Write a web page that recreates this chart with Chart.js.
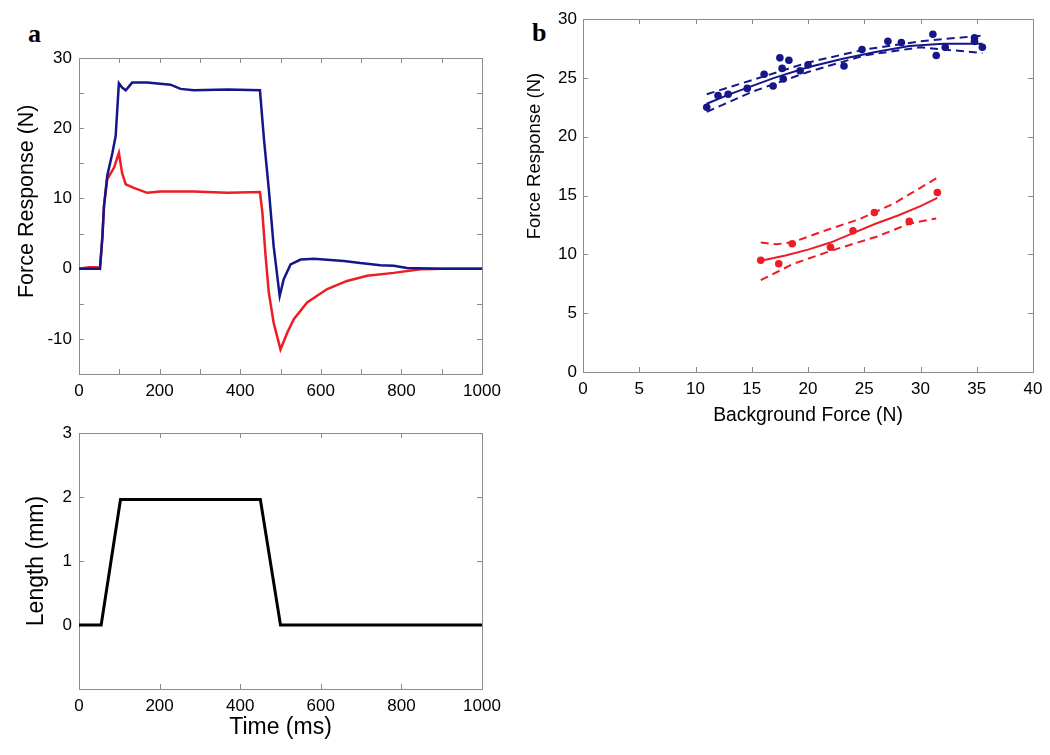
<!DOCTYPE html>
<html>
<head>
<meta charset="utf-8">
<script src="https://cdn.jsdelivr.net/npm/chart.js@4.4.1/dist/chart.umd.min.js"></script>
<style>
  body { margin: 0; background: #fff; width: 1050px; height: 755px; position: relative; overflow: hidden; }
  canvas { position: absolute; }
  .panel { position: absolute; font: bold 26px "Liberation Serif", "DejaVu Serif", serif; line-height: 26px; color: #000; }
</style>
</head>
<body>
<div class="panel" style="left:28px; top:21px;">a</div>
<div class="panel" style="left:532px; top:20px;">b</div>
<canvas id="force_time" width="505" height="380" style="left:0; top:40px;"></canvas>
<canvas id="length_time" width="505" height="335" style="left:0; top:420px;"></canvas>
<canvas id="force_bg" width="530" height="440" style="left:520px; top:0;"></canvas>
<script>
// panel a, top: force response over time
const blueTime = [0, 52, 58, 62, 70, 83, 91, 99, 107, 116, 132, 169, 227, 252, 285, 368, 449, 459, 471, 483, 498, 508, 525, 550, 583, 657, 698, 748, 781, 814, 900, 1000];
const blueForce = [0, 0, 4.5, 8.9, 13.2, 16.5, 18.9, 26.4, 25.8, 25.4, 26.5, 26.5, 26.2, 25.6, 25.4, 25.5, 25.4, 18.4, 11.3, 3.2, -3.9, -1.5, 0.6, 1.3, 1.4, 1.1, 0.8, 0.5, 0.4, 0.1, 0, 0];
const redTime = [0, 25, 45, 52, 58, 62, 70, 87, 99, 107, 116, 136, 169, 202, 285, 368, 449, 455, 463, 471, 483, 500, 517, 533, 566, 616, 665, 715, 781, 847, 905, 1000];
const redForce = [0, 0.2, 0.2, 0, 4.5, 8.9, 12.7, 14.4, 16.5, 13.6, 12.0, 11.5, 10.8, 11.0, 11.0, 10.8, 10.9, 8.0, 1.8, -3.4, -7.7, -11.5, -9.1, -7.2, -4.8, -2.9, -1.75, -1.0, -0.6, -0.1, 0, 0];

// panel a, bottom: length stimulus
const lengthTime = [0, 55, 103, 450, 500, 1000];
const lengthMm = [0, 0, 1.96, 1.96, 0, 0];

// panel b: response vs background force
const blueBgX = [11.0, 12.0, 12.9, 14.6, 16.1, 16.9, 17.5, 17.7, 17.8, 18.3, 19.3, 20.0, 23.2, 24.8, 27.1, 28.3, 31.1, 31.4, 32.2, 34.8, 34.8, 35.5];
const blueBgY = [22.5, 23.5, 23.6, 24.1, 25.3, 24.3, 26.7, 25.8, 24.9, 26.5, 25.6, 26.1, 26.0, 27.4, 28.1, 28.0, 28.7, 26.9, 27.6, 28.4, 28.1, 27.6];
const blueFitX = [11, 13, 15, 17, 20, 23, 26, 29, 32, 35.5];
const blueFitY = [22.8, 23.6, 24.3, 25.0, 25.9, 26.6, 27.2, 27.7, 27.9, 27.9];
const blueUpX = [11, 15, 20, 25, 30, 35.5];
const blueUpY = [23.6, 24.8, 26.3, 27.4, 28.1, 28.6];
const blueLoX = [11, 15, 20, 25, 30, 35.5];
const blueLoY = [22.1, 23.8, 25.5, 26.9, 27.6, 27.1];

const redBgX = [15.8, 17.4, 18.6, 22.0, 24.0, 25.9, 29.0, 31.5];
const redBgY = [9.5, 9.2, 10.9, 10.6, 12.0, 13.55, 12.8, 15.25];
const redFitX = [15.8, 18, 20, 22, 24, 26, 28, 30, 31.5];
const redFitY = [9.45, 9.9, 10.4, 11.0, 11.8, 12.6, 13.3, 14.1, 14.8];
const redUpX = [15.8, 17.2, 18.7, 21.6, 24.6, 27.6, 31.4];
const redUpY = [11.0, 10.85, 11.05, 12.05, 13.0, 14.3, 16.45];
const redLoX = [15.8, 18.7, 22.2, 26.1, 29.0, 31.4];
const redLoY = [7.8, 9.2, 10.35, 11.5, 12.6, 13.05];

const BLUE = '#14168a';
const RED = '#ee1c24';
const FONT = '"Liberation Sans", Arial, sans-serif';

Chart.defaults.font.family = FONT;
Chart.defaults.color = '#000';

function pts(xs, ys) {
  return xs.map((x, i) => ({x: x, y: ys[i]}));
}

// matlab style box with inward ticks
const framePlugin = {
  id: 'frame',
  beforeDatasetsDraw(chart) {
    const {ctx, chartArea: a, scales} = chart;
    ctx.save();
    ctx.strokeStyle = '#8c8c8c';
    ctx.lineWidth = 1;
    ctx.strokeRect(Math.round(a.left) + 0.5, Math.round(a.top) + 0.5, Math.round(a.right - a.left), Math.round(a.bottom - a.top));
    ctx.beginPath();
    scales.x.ticks.forEach(t => {
      const px = Math.round(scales.x.getPixelForValue(t.value)) + 0.5;
      ctx.moveTo(px, a.bottom); ctx.lineTo(px, a.bottom - 5);
      ctx.moveTo(px, a.top); ctx.lineTo(px, a.top + 5);
    });
    scales.y.ticks.forEach(t => {
      const py = Math.round(scales.y.getPixelForValue(t.value)) + 0.5;
      ctx.moveTo(a.left, py); ctx.lineTo(a.left + 5, py);
      ctx.moveTo(a.right, py); ctx.lineTo(a.right - 5, py);
    });
    ctx.stroke();
    ctx.restore();
  }
};

// y axis title, placed a little off centre like the original figure
const yTitlePlugin = {
  id: 'ytitle',
  afterDraw(chart, args, opts) {
    const ctx = chart.ctx;
    ctx.save();
    ctx.font = opts.size + 'px ' + FONT;
    ctx.fillStyle = '#000';
    ctx.textAlign = 'center';
    ctx.textBaseline = 'middle';
    ctx.translate(opts.x, chart.scales.y.getPixelForValue(opts.at));
    ctx.rotate(-Math.PI / 2);
    ctx.fillText(opts.text, 0, 0);
    ctx.restore();
  }
};

function axis(opts) {
  return {
    type: 'linear',
    min: opts.min,
    max: opts.max,
    grid: {display: false, drawTicks: false},
    border: {display: false},
    ticks: {
      stepSize: opts.step,
      autoSkip: false,
      maxRotation: 0,
      padding: opts.pad,
      font: {size: 17},
      callback: opts.label
    },
    title: opts.title ? {display: true, text: opts.title, font: {size: opts.titleSize}, padding: opts.titlePad} : {display: false},
    afterFit: s => {
      // label padding should not push the plot area around
      if (opts.width) {
        s.width = opts.width;
        s.paddingTop = Math.min(s.paddingTop, 10);
        s.paddingBottom = Math.min(s.paddingBottom, 10);
      }
      if (opts.height) {
        s.height = opts.height;
        s.paddingLeft = Math.min(s.paddingLeft, 10);
        s.paddingRight = Math.min(s.paddingRight, 15);
      }
    }
  };
}

function lineSet(data, color, width, dash) {
  return {data: data, showLine: true, borderColor: color, borderWidth: width, borderDash: dash || [], pointRadius: 0, tension: 0, fill: false};
}

function plugins(ytitle) {
  return {legend: {display: false}, tooltip: {enabled: false}, ytitle: ytitle};
}

new Chart(document.getElementById('force_time'), {
  type: 'scatter',
  data: {
    datasets: [
      lineSet(pts(blueTime, blueForce), BLUE, 2.5),
      lineSet(pts(redTime, redForce), RED, 2.5)
    ]
  },
  options: {
    responsive: false,
    animation: false,
    plugins: plugins({text: 'Force Response (N)', size: 21.5, x: 27, at: 9.6}),
    layout: {padding: {top: 18, right: 23, left: 0, bottom: 0}},
    scales: {
      x: axis({min: 0, max: 1000, step: 100, pad: 7, height: 46, label: v => v % 200 === 0 ? v : ''}),
      y: axis({min: -15, max: 30, step: 5, pad: 7, width: 79, label: v => v % 10 === 0 ? v : ''})
    }
  },
  plugins: [framePlugin, yTitlePlugin]
});

new Chart(document.getElementById('length_time'), {
  type: 'scatter',
  data: {
    datasets: [lineSet(pts(lengthTime, lengthMm), '#000', 3)]
  },
  options: {
    responsive: false,
    animation: false,
    plugins: plugins({text: 'Length (mm)', size: 23, x: 37, at: 1.0}),
    layout: {padding: {top: 13, right: 23, left: 0, bottom: 0}},
    scales: {
      x: axis({min: 0, max: 1000, step: 200, pad: 7, height: 66, label: v => v,
               title: 'Time (ms)', titleSize: 23, titlePad: {top: 0, bottom: 14}}),
      y: axis({min: -1, max: 3, step: 1, pad: 7, width: 79, label: v => v >= 0 ? v : ''})
    }
  },
  plugins: [framePlugin, yTitlePlugin]
});

function dots(data, color) {
  return {data: data, showLine: false, pointRadius: 3.8, pointBackgroundColor: color, pointBorderColor: color, pointBorderWidth: 0};
}

new Chart(document.getElementById('force_bg'), {
  type: 'scatter',
  data: {
    datasets: [
      dots(pts(blueBgX, blueBgY), BLUE),
      lineSet(pts(blueFitX, blueFitY), BLUE, 2),
      lineSet(pts(blueUpX, blueUpY), BLUE, 2, [8, 5]),
      lineSet(pts(blueLoX, blueLoY), BLUE, 2, [8, 5]),
      dots(pts(redBgX, redBgY), RED),
      lineSet(pts(redFitX, redFitY), RED, 2),
      lineSet(pts(redUpX, redUpY), RED, 2, [8, 5]),
      lineSet(pts(redLoX, redLoY), RED, 2, [8, 5])
    ]
  },
  options: {
    responsive: false,
    animation: false,
    plugins: plugins({text: 'Force Response (N)', size: 18.5, x: 15, at: 18.35}),
    layout: {padding: {top: 19, right: 17, left: 0, bottom: 0}},
    scales: {
      x: axis({min: 0, max: 40, step: 5, pad: 7, height: 68, label: v => v,
               title: 'Background Force (N)', titleSize: 19.3, titlePad: {top: 0, bottom: 13}}),
      y: axis({min: 0, max: 30, step: 5, pad: 6, width: 63, label: v => v})
    }
  },
  plugins: [framePlugin, yTitlePlugin]
});
</script>
</body>
</html>
